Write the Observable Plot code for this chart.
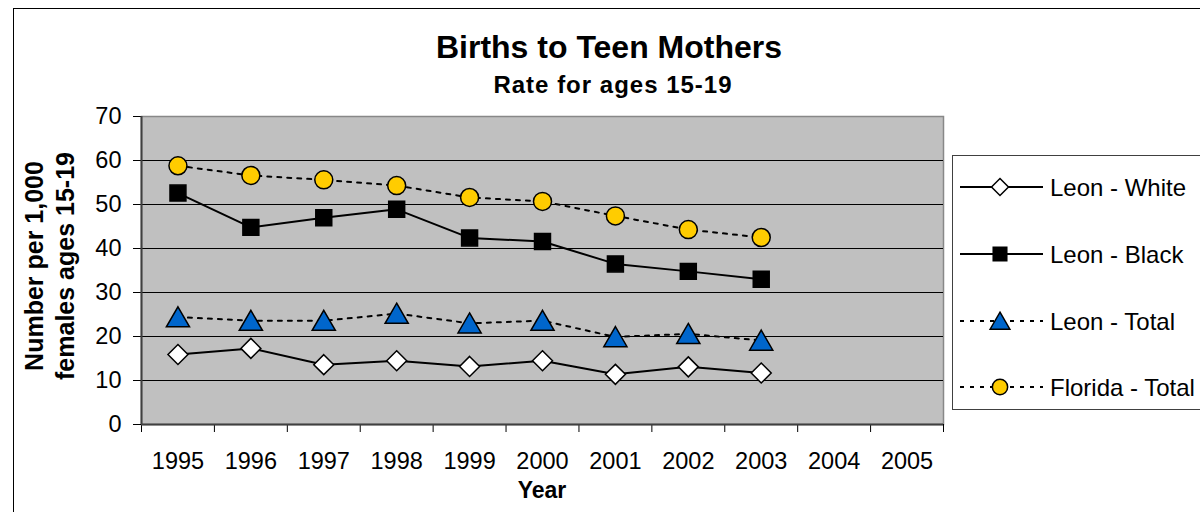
<!DOCTYPE html>
<html><head><meta charset="utf-8">
<script src="https://cdn.jsdelivr.net/npm/d3@7"></script>
<script src="https://cdn.jsdelivr.net/npm/@observablehq/plot@0.6"></script>
<style>
html,body{margin:0;padding:0;background:#fff;overflow:hidden}
#wrap{position:relative;width:1200px;height:512px;font-family:"Liberation Sans",Arial,sans-serif;color:#000}
#wrap svg{position:absolute;left:0;top:0}
.abs{position:absolute;white-space:nowrap}
#border{position:absolute;left:13px;top:8px;width:1220px;height:540px;border:1px solid #000;box-sizing:border-box}
#title{left:309px;width:600px;top:28px;text-align:center;font-weight:bold;font-size:32px;line-height:38px}
#subtitle{left:313px;width:600px;top:71px;text-align:center;font-weight:bold;font-size:24px;letter-spacing:1px;line-height:28px}
#ytitle{left:50px;top:266px;transform:translate(-50%,-50%) rotate(-90deg);text-align:center;font-weight:bold;font-size:25px;line-height:31px}
#xtitle{left:442px;width:200px;top:476px;text-align:center;font-weight:bold;font-size:23px;line-height:28px}
#legend{left:952px;top:155px;width:270px;height:255px;border:1px solid #404040;box-sizing:border-box;background:#fff}
</style></head><body><div id="wrap"><div id="border"></div></div>
<script>
// ---- data ----
const years = [1995, 1996, 1997, 1998, 1999, 2000, 2001, 2002, 2003];
const axisYears = [1995, 1996, 1997, 1998, 1999, 2000, 2001, 2002, 2003, 2004, 2005];
const yTicks = [0, 10, 20, 30, 40, 50, 60, 70];
const leonWhite = [15.9, 17.3, 13.6, 14.5, 13.2, 14.5, 11.4, 13.1, 11.7];
const leonBlack = [52.6, 44.8, 47.0, 48.9, 42.4, 41.6, 36.5, 34.8, 33.0];
const leonTotal = [24.4, 23.6, 23.6, 25.2, 23.0, 23.6, 19.9, 20.6, 19.1];
const floridaTotal = [58.8, 56.6, 55.6, 54.3, 51.6, 50.7, 47.4, 44.3, 42.5];
const seriesNames = ["Leon - White", "Leon - Black", "Leon - Total", "Florida - Total"];
const titleText = "Births to Teen Mothers";
const subtitleText = "Rate for ages 15-19";
const yTitleLines = ["Number per 1,000", "females ages 15-19"];
const xTitleText = "Year";

// ---- styles per series ----
const styles = [
  {symbol: "diamond2", fill: "#ffffff", dash: null, r: 9, dy: 0},
  {symbol: "square", fill: "#000000", dash: null, r: 9, dy: 0},
  {symbol: "triangle", fill: "#0066cc", dash: "4,6", r: 8.6, dy: 3},
  {symbol: "circle", fill: "#ffcc00", dash: "4,6", r: 9, dy: 0}
];
const seriesValues = [leonWhite, leonBlack, leonTotal, floridaTotal];
const table = seriesValues.map((vals, i) => years.map((yr, j) => ({year: yr, value: vals[j], series: seriesNames[i]})));

const boundaries = axisYears.map(y => y - 0.5).concat([axisYears[axisYears.length - 1] + 0.5]);

const marks = [
  Plot.frame({fill: "#c0c0c0", stroke: "#888888", strokeWidth: 1.5}),
  Plot.gridY(yTicks.filter(t => t > 0 && t < 70), {stroke: "#000", strokeOpacity: 1, strokeWidth: 1}),
  Plot.axisY(yTicks, {anchor: "left", tickSize: 8, tickPadding: 12, fontSize: 23.5, color: "#000", label: null}),
  Plot.axisX(boundaries, {anchor: "bottom", tickSize: 8, tickFormat: () => "", color: "#000", label: null}),
  Plot.axisX(axisYears, {anchor: "bottom", tickSize: 0, tickPadding: 28, fontSize: 23.5, tickFormat: d => String(d), color: "#000", label: null}),
  Plot.ruleX([boundaries[0]], {stroke: "#404040", strokeWidth: 2}),
  Plot.ruleY([0], {stroke: "#404040", strokeWidth: 2})
];
table.forEach((data, i) => {
  const s = styles[i];
  marks.push(Plot.line(data, {x: "year", y: "value", stroke: "#000", strokeWidth: 2, strokeDasharray: s.dash}));
});
table.forEach((data, i) => {
  const s = styles[i];
  marks.push(Plot.dot(data, {x: "year", y: "value", symbol: () => s.symbol, r: s.r, fill: s.fill, stroke: "#000", strokeWidth: 1.5, dy: s.dy}));
});

const chart = Plot.plot({
  width: 1200, height: 512,
  marginLeft: 141, marginRight: 257, marginTop: 116, marginBottom: 88,
  x: {domain: [boundaries[0], boundaries[boundaries.length - 1]], label: null},
  y: {domain: [0, 70], label: null},
  symbol: {type: "identity"},
  style: {fontFamily: "'Liberation Sans', Arial, sans-serif", background: "transparent", color: "#000"},
  marks
});
const wrap = document.getElementById("wrap");
wrap.insertBefore(chart, wrap.firstChild);

function addDiv(id, cls, html) {
  const d = document.createElement("div");
  d.id = id; d.className = cls; d.innerHTML = html;
  wrap.appendChild(d);
  return d;
}
addDiv("title", "abs", titleText);
addDiv("subtitle", "abs", subtitleText);
addDiv("ytitle", "abs", yTitleLines.join("<br>"));
addDiv("xtitle", "abs", xTitleText);
const leg = addDiv("legend", "abs", "");

// legend
const lsvg = d3.select(leg).append("svg").attr("width", 270).attr("height", 255)
  .style("position", "absolute").style("left", "-1px").style("top", "-1px");
const rowY = [32, 99, 166, 232];
seriesNames.forEach((name, i) => {
  const s = styles[i];
  const g = lsvg.append("g").attr("transform", `translate(0,${rowY[i]})`);
  g.append("line").attr("x1", 8).attr("x2", 91).attr("y1", 0).attr("y2", 0)
    .attr("stroke", "#000").attr("stroke-width", 2).attr("stroke-dasharray", s.dash);
  const sym = {diamond2: d3.symbolDiamond2, square: d3.symbolSquare, triangle: d3.symbolTriangle, circle: d3.symbolCircle}[s.symbol];
  const size = Math.PI * (s.r * 0.85) ** 2;
  g.append("path").attr("d", d3.symbol(sym, size)()).attr("transform", `translate(48,${s.dy * 0.85})`)
    .attr("fill", s.fill).attr("stroke", "#000").attr("stroke-width", 1.5);
  g.append("text").attr("x", 98).attr("y", 0).attr("dy", "0.36em")
    .attr("font-size", 24).attr("font-family", "'Liberation Sans', Arial, sans-serif").text(name);
});
</script></body></html>
